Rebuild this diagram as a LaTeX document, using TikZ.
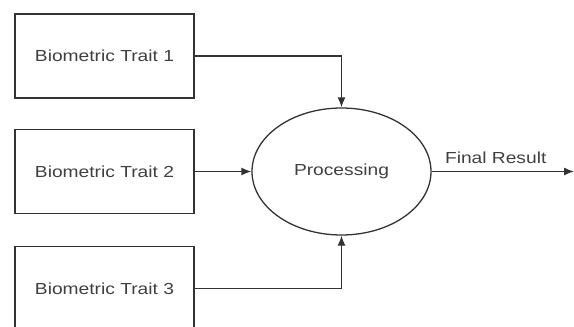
\documentclass[tikz,border=0pt]{standalone}
\usepackage{fontspec}
\newfontfamily\figfont[FakeStretch=1.2]{Liberation Sans}
\usetikzlibrary{arrows.meta, shapes.geometric}

\tikzset{
  trait/.style={draw=black!80, line width=1.3pt, minimum width=179pt, minimum height=84pt,
                inner sep=0pt, font=\figfont\fontsize{16}{19}\selectfont, text=black!75},
  proc/.style={draw=black!80, line width=1.3pt, ellipse, minimum width=179pt, minimum height=127pt,
               inner sep=0pt, font=\figfont\fontsize{16}{19}\selectfont, text=black!75},
  link/.style={draw=black!80, line width=1.3pt, -{Latex[length=10pt,width=8pt]}}
}

\begin{document}
\begin{tikzpicture}[x=1pt, y=-1pt]
  \useasboundingbox (0,0) rectangle (574,327);

  % inputs
  \node[trait] (trait1) at (104.5,56) {Biometric Trait 1};
  \node[trait] (trait2) at (104.5,171.5) {Biometric Trait 2};
  \node[trait] (trait3) at (104.5,288.5) {Biometric Trait 3};

  % fusion
  \node[proc] (proc) at (341.5,171.5) {Processing};
  \coordinate (result) at (574,171.5);

  % connections
  \draw[link] (trait1.east) -| (proc.north);
  \draw[link] (trait2.east) -- (proc.west);
  \draw[link] (trait3.east) -| (proc.south);
  \draw[link] (proc.east) -- (result)
        node[pos=0.45, above=4pt, font=\figfont\fontsize{16}{19}\selectfont, text=black!75] {Final Result};
\end{tikzpicture}
\end{document}
